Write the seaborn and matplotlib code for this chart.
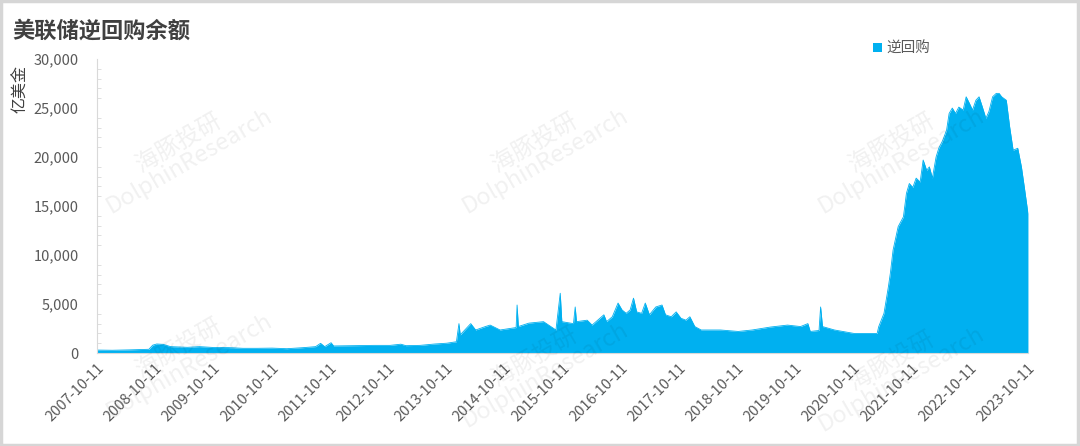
import matplotlib
matplotlib.use("Agg")
import matplotlib.pyplot as plt
import matplotlib.ticker as mticker
from matplotlib.patches import Rectangle
import numpy as np
import pandas as pd
import seaborn as sns

# ---------------- data ----------------
dates = [
    "2007-10-11", "2008-01-15", "2008-05-01", "2008-09-01", "2008-09-25", "2008-10-20",
    "2008-12-01", "2009-01-15", "2009-05-01", "2009-07-15", "2009-10-15", "2010-01-15",
    "2010-04-15", "2010-07-15", "2010-10-15", "2011-01-15", "2011-05-01", "2011-07-15",
    "2011-08-15", "2011-09-10", "2011-10-20", "2011-11-05", "2012-04-01", "2012-07-15",
    "2012-10-25", "2012-12-31", "2013-02-01", "2013-05-01", "2013-08-01", "2013-10-15",
    "2013-12-15", "2013-12-31", "2014-01-08", "2014-03-15", "2014-04-15", "2014-06-15",
    "2014-07-15", "2014-09-15", "2014-12-25", "2014-12-31", "2015-01-08", "2015-03-15",
    "2015-06-15", "2015-09-01", "2015-09-28", "2015-10-08", "2015-12-20", "2015-12-31",
    "2016-01-08", "2016-03-15", "2016-04-15", "2016-06-28", "2016-07-15", "2016-08-20",
    "2016-09-25", "2016-10-20", "2016-11-15", "2016-12-10", "2016-12-31", "2017-01-20",
    "2017-02-20", "2017-03-15", "2017-04-10", "2017-05-20", "2017-06-28", "2017-07-20",
    "2017-08-25", "2017-09-25", "2017-10-25", "2017-11-25", "2017-12-20", "2018-01-20",
    "2018-03-01", "2018-06-30", "2018-10-20", "2019-01-15", "2019-05-10", "2019-08-25",
    "2019-11-15", "2019-12-31", "2020-01-15", "2020-03-10", "2020-03-20", "2020-04-01",
    "2020-06-15", "2020-10-15", "2021-01-30", "2021-03-10", "2021-03-20", "2021-04-22",
    "2021-05-20", "2021-06-01", "2021-06-18", "2021-07-20", "2021-08-22", "2021-09-10",
    "2021-09-28", "2021-10-20", "2021-11-10", "2021-12-05", "2021-12-24", "2022-01-15",
    "2022-02-01", "2022-02-20", "2022-03-15", "2022-04-01", "2022-04-26", "2022-05-20",
    "2022-06-05", "2022-06-25", "2022-07-15", "2022-08-05", "2022-09-01", "2022-09-20",
    "2022-10-10", "2022-10-30", "2022-11-20", "2022-12-10", "2022-12-31", "2023-01-22",
    "2023-02-10", "2023-03-05", "2023-03-28", "2023-04-15", "2023-05-01", "2023-05-30",
    "2023-06-20", "2023-07-12", "2023-08-10", "2023-09-02", "2023-09-20", "2023-10-13",
]
reverse_repo = [
    300, 280, 320, 380, 800, 920,
    880, 650, 580, 650, 560, 550,
    480, 480, 500, 440, 550, 650,
    990, 650, 1050, 720, 750, 780,
    780, 900, 750, 780, 920, 1000,
    1150, 3000, 1850, 3000, 2350, 2700,
    2850, 2350, 2600, 4900, 2700, 3050,
    3200, 2350, 6100, 3200, 3000, 4700,
    3200, 3350, 2850, 3900, 3200, 3700,
    5100, 4400, 4050, 4400, 5600, 4200,
    4050, 5100, 3900, 4700, 4900, 3900,
    3700, 4200, 3550, 3350, 3700, 2700,
    2350, 2350, 2200, 2350, 2650, 2850,
    2700, 3000, 2200, 2300, 4700, 2700,
    2350, 2000, 2000, 2000, 2700, 4050,
    6800, 8150, 10500, 12900, 13900, 16300,
    17300, 16900, 17850, 17450, 19700, 18650,
    19000, 17850, 20000, 20900, 21700, 22750,
    24450, 25000, 24450, 25100, 24800, 26150,
    25500, 24800, 25800, 26150, 25100, 23950,
    24650, 26150, 26500, 26500, 26150, 25800,
    23100, 20700, 20900, 19000, 16950, 14250,
]
tick_labels = [f"{y}-10-11" for y in range(2007, 2024)]
series_name = "逆回购"
title = "美联储逆回购余额"
y_label = "亿美金"

# ---------------- styling ----------------
sns.set_theme(style="white")
plt.rcParams["font.family"] = ["Noto Sans CJK SC", "DejaVu Sans"]
plt.rcParams["axes.unicode_minus"] = False

BLUE = "#00B0F0"
GRAY_TXT = "#595959"
AXIS_GRAY = "#D9D9D9"

df = pd.DataFrame({"date": pd.to_datetime(dates), "value": reverse_repo})

fig = plt.figure(figsize=(10.8, 4.46), dpi=100)
ax = fig.add_axes([0.0898, 0.2085, 0.862, 0.659])

# outline through seaborn, fill from the same data
sns.lineplot(data=df, x="date", y="value", ax=ax, color=BLUE, linewidth=0.6)
ax.fill_between(df["date"], 0, df["value"], color=BLUE, linewidth=0, label=series_name)

ax.set_xlim(pd.Timestamp(dates[0]), pd.Timestamp(dates[-1]))
ax.set_ylim(0, 30000)
ax.yaxis.set_major_locator(mticker.MultipleLocator(5000))
ax.yaxis.set_minor_locator(mticker.MultipleLocator(1000))
ax.yaxis.set_major_formatter(mticker.FuncFormatter(lambda v, p: f"{int(v):,}"))

tick_pos = pd.to_datetime(tick_labels)
ax.set_xticks(tick_pos)
ax.set_xticklabels(tick_labels, rotation=45, ha="right", rotation_mode="anchor")

for s in ["top", "right"]:
    ax.spines[s].set_visible(False)
for s in ["left", "bottom"]:
    ax.spines[s].set_color(AXIS_GRAY)
    ax.spines[s].set_linewidth(0.8)

ax.tick_params(axis="y", which="major", direction="out", length=3, width=0.8,
               color=AXIS_GRAY, labelcolor=GRAY_TXT, labelsize=10.5, pad=10)
ax.tick_params(axis="y", which="minor", direction="in", length=3, width=0.6,
               color=AXIS_GRAY, left=True)
ax.tick_params(axis="x", which="major", direction="out", length=4, width=0.8,
               color=AXIS_GRAY, labelcolor=GRAY_TXT, labelsize=10.5, pad=2)
ax.set_xlabel("")
ax.set_ylabel("")
ax.grid(False)

# title and y label
fig.text(0.011, 0.93, title, fontsize=16, fontweight="bold", color="#404040",
         ha="left", va="center")
fig.text(0.019, 0.80, y_label, fontsize=11.5, color="#404040", rotation=90,
         ha="center", va="center")

# legend
leg = ax.legend(loc="upper left", bbox_to_anchor=(0.82, 1.105), frameon=False,
                handlelength=0.6, handleheight=0.6, handletextpad=0.3,
                fontsize=10.5)
for t in leg.get_texts():
    t.set_color(GRAY_TXT)

# faint watermarks
for (wx, wy) in [(0.17, 0.66), (0.50, 0.66), (0.83, 0.66),
                 (0.17, 0.20), (0.50, 0.18), (0.83, 0.17)]:
    fig.text(wx, wy, "海豚投研\nDolphinResearch", fontsize=17, color="#000000",
             alpha=0.06, rotation=30, ha="center", va="center",
             linespacing=0.9, zorder=10)

# figure border
fig.patches.append(Rectangle((0.001, 0.002), 0.997, 0.995, transform=fig.transFigure,
                             fill=False, edgecolor="#D6D6D6", linewidth=2.5))

fig.savefig("out.png", dpi=100, facecolor="white")
